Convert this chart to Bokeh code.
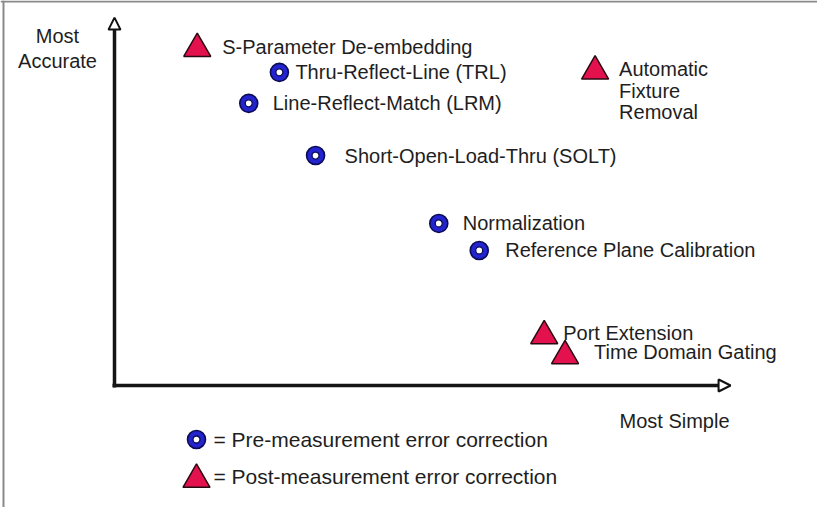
from bokeh.plotting import figure
from bokeh.models import Range1d, Arrow, NormalHead, Span, ColumnDataSource
from bokeh.embed import file_html
from bokeh.resources import INLINE
from bokeh.core.properties import value

# ---- data: simplicity (x, 0..100) vs accuracy (y, 0..100) ----
pre_names = ["Thru-Reflect-Line (TRL)", "Line-Reflect-Match (LRM)",
             "Short-Open-Load-Thru (SOLT)", "Normalization",
             "Reference Plane Calibration"]
pre_x = [26.9, 21.9, 32.8, 52.9, 59.5]
pre_y = [85.8, 77.3, 63.0, 44.4, 37.0]

post_names = ["S-Parameter De-embedding", "Port Extension", "Time Domain Gating"]
post_x = [13.5, 70.1, 73.5]
post_y = [92.3, 13.6, 8.1]

afr_lines = ["Automatic", "Fixture", "Removal"]
afr_x = 78.4
afr_y = 86.1

x_label = "Most Simple"
y_label_lines = ["Most", "Accurate"]
legend_labels = ["= Pre-measurement error correction",
                 "= Post-measurement error correction"]

# ---- layout (pixel geometry of the frame) ----
W, H = 817, 507
OX, OY = 114, 385          # axis origin inside the frame (px)
SX, SY = 6.13, 3.65        # px per unit

def px2x(px):
    return (px - OX) / SX

def px2y(py):
    return (OY - py) / SY

FONT = value("Liberation Sans")
TXT = "#1e1e1e"
BLUE = "#2323cf"
NAVY = "#0c0c55"
RED = "#e3124e"
DARK = "#2a0a12"
TRI = 27

p = figure(width=W, height=H, output_backend="svg", toolbar_location=None,
           x_range=Range1d(px2x(0), px2x(W)), y_range=Range1d(px2y(H), px2y(0)),
           min_border=0, outline_line_color=None)
p.axis.visible = False
p.grid.visible = False
p.background_fill_color = "white"

# page border (cropped frame)
p.add_layout(Span(location=px2y(1), dimension="width", line_color="#8a8a8a", line_width=2))
p.add_layout(Span(location=px2x(3), dimension="height", line_color="#8a8a8a", line_width=2))

# axes arrows
head_kw = dict(size=12, fill_color="white", line_color="#111111", line_width=2)
p.add_layout(Arrow(end=NormalHead(**head_kw), x_start=0, y_start=px2y(OY + 2),
                   x_end=0, y_end=100.8, line_width=3.5, line_color="#151515"))
p.add_layout(Arrow(end=NormalHead(**head_kw), x_start=px2x(OX - 2), y_start=0,
                   x_end=100.5, y_end=0, line_width=3.5, line_color="#151515"))

# pre-measurement markers (rings)
pre_src = ColumnDataSource(dict(x=pre_x, y=pre_y, name=pre_names,
                                dx=[16, 24, 29, 24, 26], dy=[0, 0, 0, 0, 0]))
p.scatter("x", "y", source=pre_src, marker="circle", size=18,
          fill_color=BLUE, line_color=NAVY, line_width=1.6)
p.scatter("x", "y", source=pre_src, marker="circle", size=7,
          fill_color="white", line_color=NAVY, line_width=1.3)
p.text("x", "y", text="name", source=pre_src, x_offset="dx", y_offset="dy",
       text_font=FONT, text_font_size="20px", text_color=TXT,
       text_baseline="middle", text_align="left")

# post-measurement markers (triangles)
post_src = ColumnDataSource(dict(x=post_x, y=post_y, name=post_names,
                                 dx=[25, 19, 29], dy=[-2, -2.5, -3.5]))
p.scatter("x", "y", source=post_src, marker="triangle", size=TRI,
          fill_color=RED, line_color=DARK, line_width=1.5)
p.text("x", "y", text="name", source=post_src, x_offset="dx", y_offset="dy",
       text_font=FONT, text_font_size="20px", text_color=TXT,
       text_baseline="middle", text_align="left")

afr_src = ColumnDataSource(dict(x=[afr_x] * 3, y=[afr_y] * 3, name=afr_lines,
                                dy=[-2, 20, 41]))
p.scatter([afr_x], [afr_y], marker="triangle", size=TRI,
          fill_color=RED, line_color=DARK, line_width=1.5)
p.text("x", "y", text="name", source=afr_src, x_offset=24, y_offset="dy",
       text_font=FONT, text_font_size="20px", text_color=TXT,
       text_baseline="middle", text_align="left")

# axis titles
p.text([px2x(57)] * 2, [px2y(35), px2y(60)], text=y_label_lines, text_font=FONT,
       text_font_size="20px", text_color=TXT, text_baseline="middle", text_align="center")
p.text([px2x(619)], [px2y(420)], text=[x_label], text_font=FONT, text_font_size="20px",
       text_color=TXT, text_baseline="middle", text_align="left")

# legend
lx = px2x(196)
p.scatter([lx], [px2y(439)], marker="circle", size=18, fill_color=BLUE,
          line_color=NAVY, line_width=1.6)
p.scatter([lx], [px2y(439)], marker="circle", size=7, fill_color="white",
          line_color=NAVY, line_width=1.3)
p.scatter([lx], [px2y(479)], marker="triangle", size=TRI, fill_color=RED,
          line_color=DARK, line_width=1.5)
p.text([px2x(213), px2x(213)], [px2y(439), px2y(476)], text=legend_labels,
       text_font=FONT, text_font_size="21px", text_color=TXT,
       text_baseline="middle", text_align="left")

open("out.html", "w").write(file_html(p, INLINE))
